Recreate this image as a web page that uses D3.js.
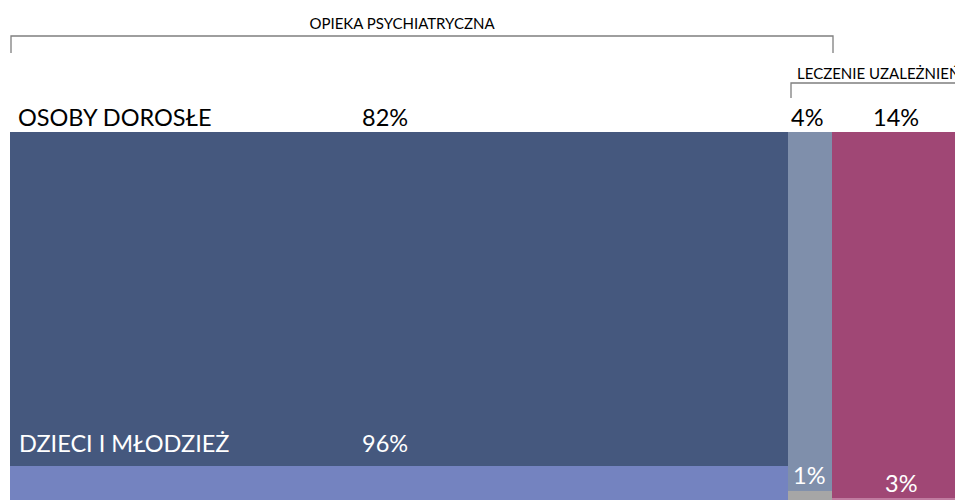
<!DOCTYPE html>
<html>
<head>
<meta charset="utf-8">
<script src="https://cdn.jsdelivr.net/npm/d3@7"></script>
<style>
  body { margin: 0; background: #fff; overflow: hidden; }
  text { font-family: Lato, "Open Sans", sans-serif; }
</style>
</head>
<body>
<div id="chart"></div>
<script>
var width = 955,
    height = 500;

// data
var groups = ["OSOBY DOROSŁE", "DZIECI I MŁODZIEŻ"];
var adults = [82, 4, 14];
var children = [96, 1, 3];
var brackets = ["OPIEKA PSYCHIATRYCZNA", "LECZENIE UZALEŻNIEŃ"];

var adultColors = ["#45587e", "#7f8fab", "#a04775"];
var childColors = ["#7483c0", "#a6a6a6", "#c07ba0"];

// column edges from cumulative adult shares
var cum = [0];
adults.forEach(function(v, i) { cum.push(cum[i] + v); });

var x = d3.scaleLinear()
    .domain(cum)
    .range([10, 788, 832, 965]);

// vertical layout: top of bars and where the children part starts in each column
var y = d3.scaleLinear()
    .domain([0, 1])
    .range([132, 500]);
var split = [0.9076, 0.9755, 0.9946];

var svg = d3.select("#chart").append("svg")
    .attr("width", width)
    .attr("height", height);

var cols = adults.map(function(v, i) {
  return { i: i, adult: v, child: children[i], x0: x(cum[i]), x1: x(cum[i + 1]) };
});

svg.selectAll("rect.adult")
    .data(cols)
    .enter().append("rect")
    .attr("class", "adult")
    .attr("x", function(d) { return d.x0; })
    .attr("y", y(0))
    .attr("width", function(d) { return d.x1 - d.x0; })
    .attr("height", function(d) { return y(split[d.i]) - y(0); })
    .style("fill", function(d) { return adultColors[d.i]; });

svg.selectAll("rect.child")
    .data(cols)
    .enter().append("rect")
    .attr("class", "child")
    .attr("x", function(d) { return d.x0; })
    .attr("y", function(d) { return y(split[d.i]); })
    .attr("width", function(d) { return d.x1 - d.x0; })
    .attr("height", 60)
    .style("fill", function(d) { return childColors[d.i]; });

// row labels
svg.append("text")
    .attr("x", 18).attr("y", 126)
    .style("font-size", "23.5px").style("fill", "#000")
    .text(groups[0]);
svg.append("text")
    .attr("x", 19).attr("y", 452)
    .style("font-size", "23.5px").style("fill", "#fff")
    .text(groups[1]);

// adult percentages above bars
var adultLabelX = [362, 791, 873];
svg.selectAll("text.apct")
    .data(cols)
    .enter().append("text")
    .attr("class", "apct")
    .attr("x", function(d) { return adultLabelX[d.i]; })
    .attr("y", 126)
    .style("font-size", "23.5px")
    .text(function(d) { return d.adult + "%"; });

// children percentages
var childLabelPos = [[362, 452], [793, 484], [885, 492]];
svg.selectAll("text.cpct")
    .data(cols)
    .enter().append("text")
    .attr("class", "cpct")
    .attr("x", function(d) { return childLabelPos[d.i][0]; })
    .attr("y", function(d) { return childLabelPos[d.i][1]; })
    .style("font-size", "23.5px")
    .style("fill", "#fff")
    .text(function(d) { return d.child + "%"; });

// brackets
var br = [
  { label: brackets[0], x0: x(0) + 1, x1: x(cum[2]) + 1, y: 36, tick: 17, tx: 402, ty: 29, anchor: "middle" },
  { label: brackets[1], x0: x(cum[1]) + 3, x1: 960, y: 83, tick: 15, tx: 797, ty: 79, anchor: "start" }
];

br.forEach(function(b, i) {
  var p = d3.path();
  p.moveTo(b.x0, b.y + b.tick);
  p.lineTo(b.x0, b.y);
  p.lineTo(b.x1, b.y);
  if (i === 0) p.lineTo(b.x1, b.y + b.tick);
  svg.append("path")
      .attr("d", p.toString())
      .style("fill", "none")
      .style("stroke", "#7f7f7f")
      .style("stroke-width", 1.3);
  svg.append("text")
      .attr("x", b.tx)
      .attr("y", b.ty)
      .attr("text-anchor", b.anchor)
      .style("font-size", "15px")
      .style("fill", "#000")
      .text(b.label);
});
</script>
</body>
</html>
